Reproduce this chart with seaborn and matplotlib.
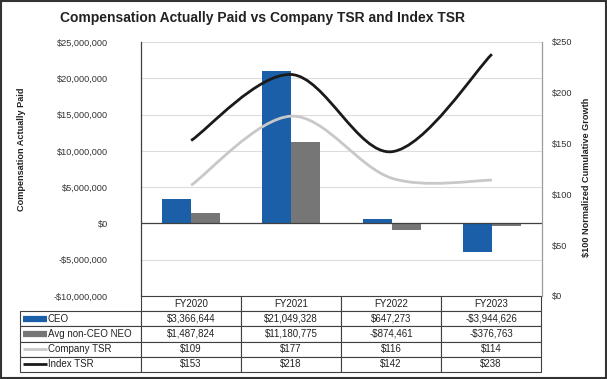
import matplotlib
matplotlib.use("Agg")
import numpy as np
import pandas as pd
import seaborn as sns
from matplotlib import pyplot as plt
from matplotlib.path import Path
from matplotlib.patches import PathPatch, Rectangle
from matplotlib.ticker import FuncFormatter, MultipleLocator

plt.rcParams["font.family"] = ["Liberation Sans", "DejaVu Sans"]

# chart data
years = ["FY2020", "FY2021", "FY2022", "FY2023"]
ceo_cap = [3366644, 21049328, 647273, -3944626]
neo_cap = [1487824, 11180775, -874461, -376763]
company_tsr = [109, 177, 116, 114]
index_tsr = [153, 218, 142, 238]

blue = "#1a5fa8"
gray = "#767676"
light = "#c8c8c8"
black = "#1a1a1a"

df = pd.DataFrame({
    "year": years * 2,
    "value": ceo_cap + neo_cap,
    "series": ["CEO"] * 4 + ["Avg non-CEO NEO"] * 4,
})

W, H = 607, 379
fig = plt.figure(figsize=(W / 100, H / 100), dpi=100)
ax = fig.add_axes([141 / W, 1 - 296 / H, 401 / W, 254 / H])

sns.barplot(data=df, x="year", y="value", hue="series", palette=[blue, gray],
            width=0.58, gap=0, saturation=1, ax=ax, legend=False, zorder=2)
ax.set_ylim(-10_000_000, 25_000_000)
ax.set_xlim(-0.5, 3.5)
ax.yaxis.set_major_locator(MultipleLocator(5_000_000))


def money(v, pos=None):
    s = "${:,.0f}".format(abs(v))
    return "-" + s if v < 0 else s


ax.yaxis.set_major_formatter(FuncFormatter(money))
ax.tick_params(axis="y", length=0, pad=24, labelsize=6.6, labelcolor="#333333")
ax.set_xticks([])
ax.set_xlabel("")
ax.set_ylabel("")
ax.grid(axis="y", color="#dcdcdc", lw=0.8, zorder=0)
ax.set_axisbelow(True)
ax.axhline(0, color="#404040", lw=0.9, zorder=3)
for s in ["top", "bottom", "right"]:
    ax.spines[s].set_visible(False)
ax.spines["left"].set_color("#404040")
ax.spines["left"].set_linewidth(0.9)

# secondary axis with smoothed TSR lines
ax2 = ax.twinx()
ax2.set_ylim(0, 250)
ax2.yaxis.set_major_locator(MultipleLocator(50))
ax2.yaxis.set_major_formatter(FuncFormatter(lambda v, p: "${:,.0f}".format(v)))
ax2.tick_params(axis="y", length=0, pad=7, labelsize=6.6, labelcolor="#333333")
for s in ["top", "bottom", "left"]:
    ax2.spines[s].set_visible(False)
ax2.spines["right"].set_color("#9a9a9a")
ax2.spines["right"].set_linewidth(0.9)


def smooth_path(xs, ys):
    pts = np.column_stack([xs, ys]).astype(float)
    n = len(pts)
    verts = [pts[0]]
    codes = [Path.MOVETO]
    for i in range(n - 1):
        p0 = pts[max(i - 1, 0)]
        p1 = pts[i]
        p2 = pts[i + 1]
        p3 = pts[min(i + 2, n - 1)]
        c1 = p1 + (p2 - p0) / 6
        c2 = p2 - (p3 - p1) / 6
        verts += [c1, c2, p2]
        codes += [Path.CURVE4] * 3
    return Path(verts, codes)


xpos = np.arange(len(years))
for vals, col in [(company_tsr, light), (index_tsr, black)]:
    ax2.add_patch(PathPatch(smooth_path(xpos, vals), facecolor="none",
                            edgecolor=col, lw=2, capstyle="butt", zorder=4))

# data table
rows = [[""] + years]
labels = ["CEO", "Avg non-CEO NEO", "Company TSR", "Index TSR"]
for lab, vals in zip(labels, [ceo_cap, neo_cap, company_tsr, index_tsr]):
    rows.append([lab] + [money(v) for v in vals])

tw = 521
tab = ax.table(cellText=rows, colWidths=[121 / tw] + [100 / tw] * 4,
               cellLoc="center", bbox=[-121 / 401, -76 / 254, 521 / 401, 76 / 254])
tab.auto_set_font_size(False)
for (r, c), cell in tab.get_celld().items():
    cell.set_edgecolor("#404040")
    cell.set_linewidth(0.8)
    cell.get_text().set_fontsize(7)
    cell.get_text().set_color("#222222")
    if r == 0 and c == 0:
        cell.visible_edges = ""
    if c == 0 and r > 0:
        cell.get_text().set_ha("left")
        cell._loc = "left"
        cell.PAD = 28 / 121

# legend swatches inside the table's label column
swatches = [(blue, 4.5), (gray, 4.5), (light, 2), (black, 2)]
for i, (col, lw) in enumerate(swatches):
    yc = -(15.2 * (i + 1) + 7.6) / 254
    ax.plot([-118 / 401, -94 / 401], [yc, yc], transform=ax.transAxes,
            color=col, lw=lw, solid_capstyle="butt", clip_on=False, zorder=5)

fig.text(263 / W, 1 - 18 / H, "Compensation Actually Paid vs Company TSR and Index TSR",
         ha="center", va="center", fontsize=10, fontweight="bold", color="#222222")
fig.text(22 / W, 1 - 149 / H, "Compensation Actually Paid", rotation=90,
         ha="center", va="center", fontsize=6.6, fontweight="bold", color="#222222")
fig.text(587 / W, 1 - 177 / H, "$100 Normalized Cumulative Growth", rotation=90,
         ha="center", va="center", fontsize=6.6, fontweight="bold", color="#222222")

fig.patches.append(Rectangle((0.002, 0.003), 0.996, 0.994, transform=fig.transFigure,
                             fill=False, edgecolor="#333333", lw=1.5))

fig.savefig("out.png", dpi=100)
